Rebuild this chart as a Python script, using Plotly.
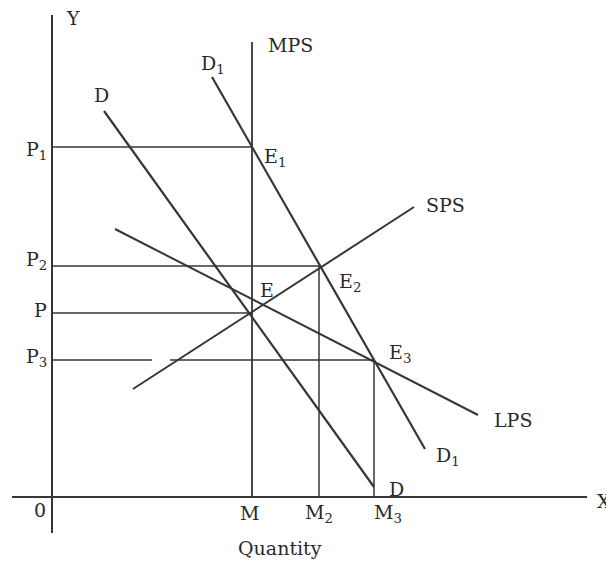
import plotly.graph_objects as go

# ---- data (economic units; origin at 0,0) ----
Q_M, Q_M2, Q_M3 = 20.0, 26.7, 32.2
P_P1, P_P2, P_P, P_P3 = 35.0, 23.1, 18.4, 13.7

D_x, D_y = [5.2, 32.2], [38.6, 1.0]
D1_x, D1_y = [16.0, 37.3], [42.0, 4.8]
SPS_x, SPS_y = [8.1, 36.2], [10.8, 29.0]
LPS_x, LPS_y = [6.3, 42.6], [26.8, 8.2]
MPS_x, MPS_y = [Q_M, Q_M], [0, 45.5]

XAXIS_x, XAXIS_y = [-4.0, 53.5], [0, 0]
YAXIS_x, YAXIS_y = [0, 0], [-3.6, 48.2]

# guide lines (horizontal price lines and vertical quantity lines)
H_lines = [
    ([0, Q_M], [P_P1, P_P1]),
    ([0, Q_M2], [P_P2, P_P2]),
    ([0, Q_M], [P_P, P_P]),
    ([0, 10.0], [P_P3, P_P3]),
    ([11.8, Q_M3], [P_P3, P_P3]),
]
V_lines = [
    ([Q_M2, Q_M2], [0, P_P2]),
    ([Q_M3, Q_M3], [0, P_P3]),
]

# labels: (text, x, y, xanchor)
labels = [
    ("Y", 2.1, 47.9, "center"),
    ("MPS", 23.8, 45.2, "center"),
    ("D<sub>1</sub>", 16.1, 43.3, "center"),
    ("D", 4.9, 40.2, "center"),
    ("P<sub>1</sub>", -0.3, 34.7, "right"),
    ("E<sub>1</sub>", 21.0, 34.0, "left"),
    ("SPS", 37.2, 29.2, "left"),
    ("P<sub>2</sub>", -0.3, 23.7, "right"),
    ("E<sub>2</sub>", 28.5, 21.5, "left"),
    ("E", 20.6, 20.7, "left"),
    ("P", -0.3, 18.7, "right"),
    ("P<sub>3</sub>", -0.3, 14.0, "right"),
    ("E<sub>3</sub>", 33.5, 14.4, "left"),
    ("LPS", 44.0, 7.7, "left"),
    ("D<sub>1</sub>", 38.2, 4.1, "left"),
    ("D", 33.5, 0.8, "left"),
    ("0", -1.2, -1.3, "center"),
    ("M", 19.7, -1.6, "center"),
    ("M<sub>2</sub>", 25.1, -1.6, "left"),
    ("M<sub>3</sub>", 32.0, -1.6, "left"),
    ("Quantity", 22.8, -5.1, "center"),
    ("X", 55.2, -0.4, "center"),
]

LINE = "#363636"
TXT = "#2a2a2a"
FONT = "DejaVu Serif"

fig = go.Figure()

def add_line(x, y, w=2.0):
    fig.add_trace(go.Scatter(x=x, y=y, mode="lines",
                             line=dict(color=LINE, width=w),
                             hoverinfo="skip", showlegend=False))

add_line(XAXIS_x, XAXIS_y, 2.0)
add_line(YAXIS_x, YAXIS_y, 2.0)
for hx, hy in H_lines:
    add_line(hx, hy, 1.5)
for vx, vy in V_lines:
    add_line(vx, vy, 1.5)
add_line(MPS_x, MPS_y, 1.8)
add_line(D_x, D_y, 2.2)
add_line(D1_x, D1_y, 2.2)
add_line(SPS_x, SPS_y, 2.0)
add_line(LPS_x, LPS_y, 2.0)

for text, x, y, xa in labels:
    fig.add_annotation(x=x, y=y, text=text, showarrow=False,
                       xanchor=xa, yanchor="middle",
                       font=dict(family=FONT, size=19, color=TXT))

# the page adds an 8px body margin, so the figure is 8px smaller
fig.update_layout(
    width=606, height=555,
    margin=dict(l=0, r=0, t=0, b=0),
    paper_bgcolor="#ffffff", plot_bgcolor="#ffffff",
    xaxis=dict(range=[-4.4, 56.2], visible=False, fixedrange=True),
    yaxis=dict(range=[-6.6, 48.9], visible=False, fixedrange=True),
    showlegend=False,
)

fig.write_html("out.html")
